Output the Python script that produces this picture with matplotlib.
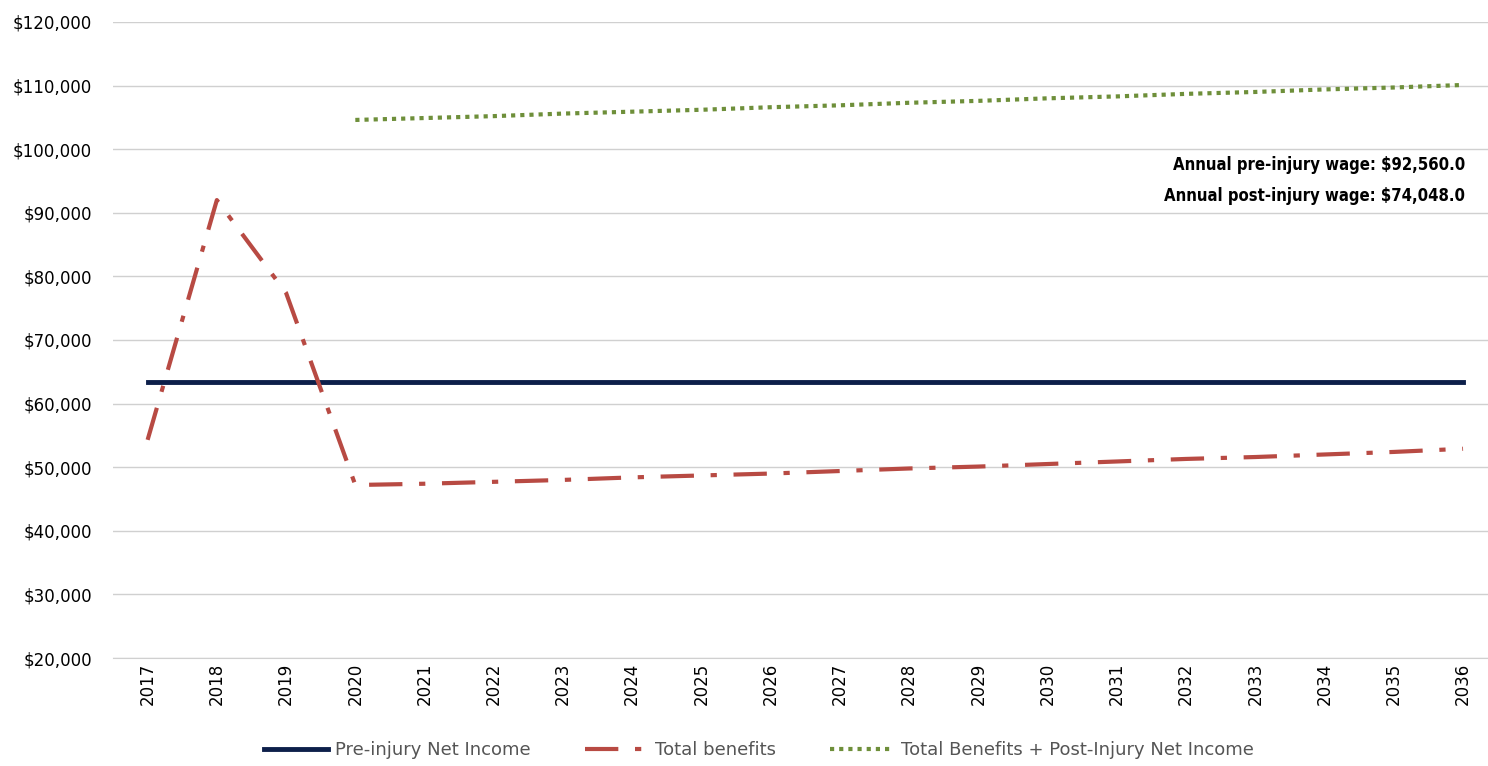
import matplotlib
matplotlib.use("Agg")
import matplotlib.pyplot as plt

years = [str(y) for y in range(2017, 2037)]
pre_injury = [63400] * 20
total_benefits = [54300, 92000, 77400, 47200, 47400, 47700, 48000, 48400, 48700, 49000,
                  49400, 49800, 50100, 50500, 50900, 51300, 51600, 52000, 52400, 52900]
combined = [None, None, None, 104600, 104900, 105200, 105600, 105900, 106200, 106600,
            106900, 107300, 107600, 108000, 108300, 108700, 109000, 109400, 109700, 110100]

fig = plt.figure(figsize=(14.88, 7.66), dpi=100)
ax = fig.add_axes([113/1488, 1-658/766, 1-113/1488, (658-22)/766])
x = list(range(20))
ax.plot(x, pre_injury, color="#0d1f4a", lw=3.5, label="Pre-injury Net Income")
ax.plot(x, total_benefits, color="#b84a43", lw=3, dashes=(8, 4, 1.5, 4), label="Total benefits")
cx = [i for i, v in enumerate(combined) if v is not None]
cy = [v for v in combined if v is not None]
ax.plot(cx, cy, color="#6e8f3a", lw=3, linestyle=(0, (1, 1.2)), label="Total Benefits + Post-Injury Net Income")

ax.set_ylim(20000, 120000)
ax.set_xlim(-0.5, 19 + 25/69.3)
ax.set_yticks(range(20000, 120001, 10000))
ax.set_yticklabels([f"${v:,}" for v in range(20000, 120001, 10000)], fontsize=12)
ax.set_xticks(x)
ax.set_xticklabels(years, rotation=90, fontsize=12)
ax.grid(axis="y", color="#d0d0d0", lw=1)
ax.set_axisbelow(True)
for s in ["top", "right", "left"]:
    ax.spines[s].set_visible(False)
ax.spines["bottom"].set_color("#d0d0d0")
ax.tick_params(axis="y", length=0, pad=15)
ax.tick_params(axis="x", length=0)

fig.text(1465/1488, 1-165/766, "Annual pre-injury wage: $92,560.0", ha="right", va="center",
         fontsize=12, fontweight="bold", fontstretch="condensed")
fig.text(1465/1488, 1-196/766, "Annual post-injury wage: $74,048.0", ha="right", va="center",
         fontsize=12, fontweight="bold", fontstretch="condensed")

fig.legend(loc="center", bbox_to_anchor=(0.51, 1-750/766), ncol=3, frameon=False,
           fontsize=13, handlelength=3.5, handletextpad=0.4, columnspacing=3, labelcolor="#555555")
fig.savefig("out.png", dpi=100)
